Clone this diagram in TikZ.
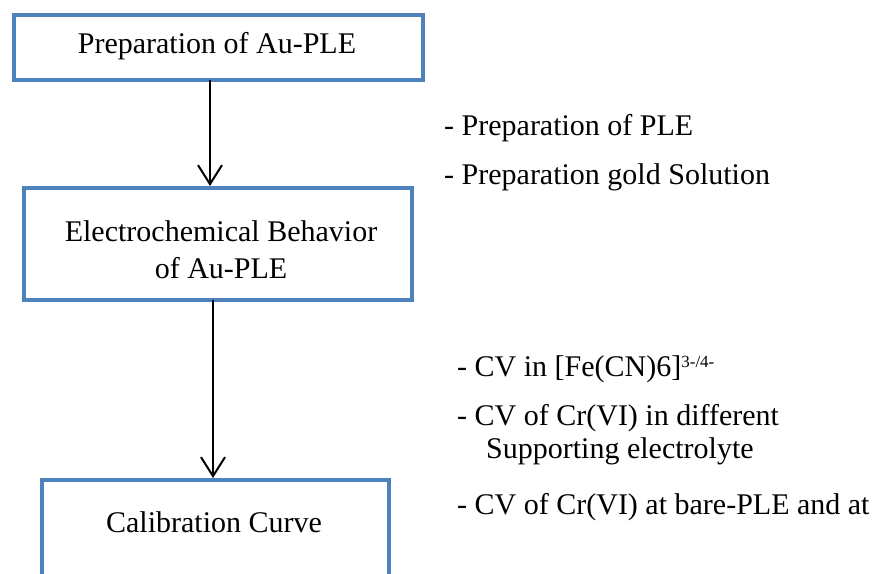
\documentclass[tikz,border=0pt]{standalone}
\usepackage{fontspec}
\setmainfont{Liberation Serif}
\usetikzlibrary{arrows.meta}
\definecolor{boxblue}{HTML}{4F81BD}
\begin{document}
\begin{tikzpicture}[x=1pt,y=-1pt,
  stepbox/.style={draw=boxblue,line width=4pt,fill=white,inner sep=0pt,outer sep=0pt,anchor=north west},
  boxtext/.style={font=\fontsize{30}{37}\selectfont,align=center,inner sep=0pt},
  sidetext/.style={font=\fontsize{30}{37}\selectfont,align=left,inner sep=0pt,anchor=west},
  arr/.style={line width=2pt,-{Straight Barb[length=19pt,width=24pt,line width=2pt]}}]
\useasboundingbox (0,0) rectangle (883,573);
\clip (0,0) rectangle (883,573);
% boxes
\node[stepbox,minimum width=409pt,minimum height=65pt] (b1) at (14,15) {};
\node[stepbox,minimum width=388pt,minimum height=112pt] (b2) at (24,188) {};
\node[stepbox,minimum width=347pt,minimum height=140pt] (b3) at (42,480) {};
% box texts
\node[boxtext] (t1) at (217,46) {Preparation of Au-PLE};
\node[boxtext] (t2) at (221,250) {Electrochemical Behavior\\of Au-PLE};
\node[boxtext] (t3) at (214,522) {Calibration Curve};
% connectors
\coordinate (a1) at (210,0);
\coordinate (a2) at (213,0);
\draw[arr,shorten >=2pt] (a1 |- b1.south) -- (a1 |- b2.north);
\draw[arr,shorten >=2pt] (a2 |- b2.south) -- (a2 |- b3.north);
% side notes
\node[sidetext] (s1) at (444,128) {- Preparation of PLE};
\node[sidetext] (s2) at (444,177) {- Preparation gold Solution};
\node[sidetext] (s3) at (457,369) {- CV in [Fe(CN)6]\textsuperscript{\fontsize{17}{20}\selectfont 3-/4-}};
\node[sidetext] (s4) at (457,418) {- CV of Cr(VI) in different};
\node[sidetext] (s5) at (486,451) {Supporting electrolyte};
\node[sidetext] (s6) at (457,507) {- CV of Cr(VI) at bare-PLE and at};
\end{tikzpicture}
\end{document}
